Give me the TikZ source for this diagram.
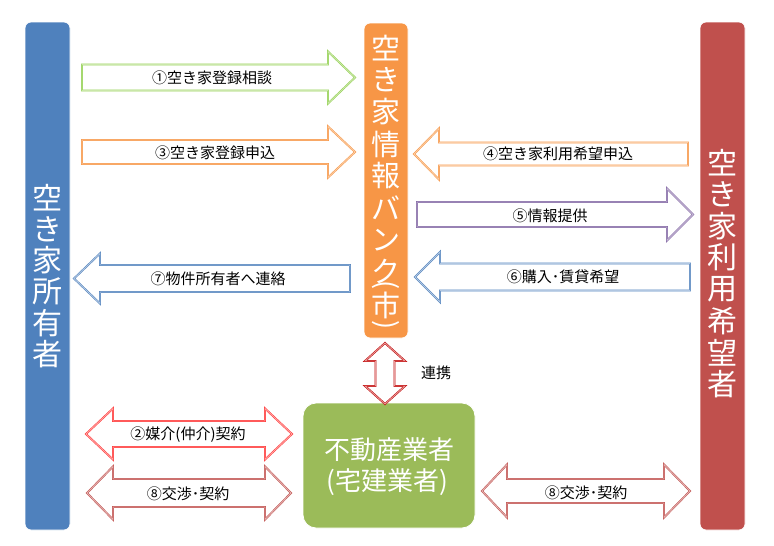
\documentclass[tikz,border=0pt]{standalone}
\usepackage{fontspec}
\setmainfont{Noto Sans CJK JP}
\definecolor{cblue}{HTML}{4F81BD}
\definecolor{corange}{HTML}{F79646}
\definecolor{cred}{HTML}{C0504D}
\definecolor{cgreen}{HTML}{9BBB59}
\definecolor{agreen}{HTML}{92D050}
\definecolor{apurple}{HTML}{8064A2}
\definecolor{abright}{HTML}{FF3333}
\definecolor{adark}{HTML}{C00000}
% single block arrow: tail x, head base x, tip x, mid y, body half, head half, style
\newcommand\blkarr[7]{\draw[#7] (#1,#4-#5) -- (#2,#4-#5) -- (#2,#4-#6) -- (#3,#4) -- (#2,#4+#6) -- (#2,#4+#5) -- (#1,#4+#5) -- cycle;}
% double block arrow: left tip, left base, right base, right tip, mid y, body half, head half, style
\newcommand\dblarr[8]{\draw[#8] (#1,#5) -- (#2,#5-#7) -- (#2,#5-#6) -- (#3,#5-#6) -- (#3,#5-#7) -- (#4,#5) -- (#3,#5+#7) -- (#3,#5+#6) -- (#2,#5+#6) -- (#2,#5+#7) -- cycle;}
\begin{document}
\begin{tikzpicture}[x=1pt,y=-1pt,
  party/.style={draw=white, line width=0.8pt, rounded corners=6pt},
  bigchar/.style={text=white, inner sep=0pt, font=\fontsize{30}{30}\selectfont},
  midchar/.style={text=white, inner sep=0pt, font=\fontsize{29}{29}\selectfont},
  lbl/.style={inner sep=0pt, text=black, font=\fontsize{15}{18}\selectfont},
  blk/.style 2 args={draw=#1, double=#2, double distance=0.9pt, line width=0.5pt, line join=miter, fill=white}]
\useasboundingbox (0,0) rectangle (774,546);
% boxes
\filldraw[party, fill=cblue] (25,22) rectangle (70,530);
\filldraw[party, fill=corange] (364,23) rectangle (408,338);
\filldraw[party, fill=cred] (700,22) rectangle (745,530);
\filldraw[party, fill=cgreen, rounded corners=13pt] (303,403) rectangle (475,528);
% vertical texts
\foreach \c [count=\i from 0] in {空,き,家,所,有,者}
  \node[bigchar] (own\i) at (47.5,197.7+31.3*\i) {\c};
\foreach \c [count=\i from 0] in {空,き,家,利,用,希,望,者}
  \node[bigchar] (usr\i) at (722.5,162.8+31.6*\i) {\c};
\foreach \c/\yy [count=\i from 0] in {空/48,き/80,家/112,情/144,報/176,バ/208,ン/240,ク/271,市/305}
  \node[midchar] (bank\i) at (386,\yy) {\c};
\node[midchar, rotate=-90, font=\fontsize{27}{27}\selectfont] (bankl) at (386,285.5) {(};
\node[midchar, rotate=-90, font=\fontsize{27}{27}\selectfont] (bankr) at (386,325) {)};
% agent box text
\node[text=white, inner sep=0pt, font=\fontsize{26}{26}\selectfont] (ag1) at (389,450) {不動産業者};
\node[text=white, inner sep=0pt, font=\fontsize{26}{26}\selectfont] (ag2) at (387,482) {(宅建業者)};
% arrows
\blkarr{82}{328}{355}{77.5}{13}{26}{blk={agreen}{agreen!50!white}}
\node[lbl] (a1) at (212,78) {①空き家登録相談};
\blkarr{82}{328}{355}{152}{12}{25.5}{blk={corange}{corange!50!white}}
\node[lbl] (a3) at (215,153) {③空き家登録申込};
\blkarr{688}{439}{414}{154}{11.5}{25.5}{blk={corange}{corange!50!white}}
\node[lbl] (a4) at (558,154) {④空き家利用希望申込};
\blkarr{417}{667}{693}{214.5}{12.5}{26}{blk={apurple}{apurple!45!white}}
\node[lbl] (a5) at (550,216) {⑤情報提供};
\blkarr{350}{100}{74}{278.5}{13.5}{25}{blk={cblue}{cblue!45!white}}
\node[lbl] (a7) at (218,279) {⑦物件所有者へ連絡};
\blkarr{690}{440}{415}{277}{13.5}{25}{blk={cblue}{cblue!45!white}}
\node[lbl] (a6) at (563,277) {⑥購入･賃貸希望};
% cooperation arrow
\draw[blk={adark}{adark!40!white}] (385,343) -- (405,361) -- (394.5,361) -- (394.5,386) -- (405,386) -- (385,404) -- (365,386) -- (375.5,386) -- (375.5,361) -- (365,361) -- cycle;
\node[lbl] (coop) at (436,373) {連携};
% double arrows
\dblarr{86}{113}{265}{292}{434}{13}{25.5}{blk={abright}{abright!45!white}}
\node[lbl] (a2) at (188,435) {②媒介(仲介)契約};
\dblarr{87}{113}{265}{291}{493}{14}{26.5}{blk={cred}{cred!45!white}}
\node[lbl] (a8l) at (188,494) {⑧交渉･契約};
\dblarr{482}{507}{664}{690}{491}{12}{26.5}{blk={cred}{cred!45!white}}
\node[lbl] (a8r) at (586,493) {⑧交渉･契約};
\end{tikzpicture}
\end{document}
